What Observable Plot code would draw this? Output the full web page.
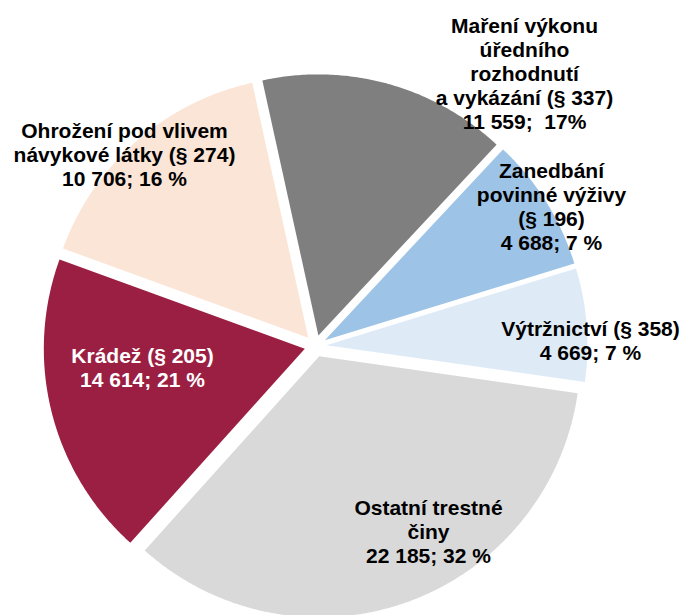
<!DOCTYPE html>
<html><head><meta charset="utf-8">
<script src="https://cdn.jsdelivr.net/npm/d3@7"></script>
<script src="https://cdn.jsdelivr.net/npm/@observablehq/plot@0.6"></script>
<style>html,body{margin:0;padding:0;background:#fff;}</style>
</head><body><div id="chart"></div>
<script>
// ---- data ----
const categories = [
  "Maření výkonu úředního rozhodnutí a vykázání (§ 337)",
  "Zanedbání povinné výživy (§ 196)",
  "Výtržnictví (§ 358)",
  "Ostatní trestné činy",
  "Krádež (§ 205)",
  "Ohrožení pod vlivem návykové látky (§ 274)"
];
// values printed in the labels
const values = [11559, 4688, 4669, 22185, 14614, 10706];
// slice shares (%)
const sliceShares = [15.4, 8.3, 7.0, 34.4, 18.9, 16.0];
const labelLines = [
  ["Maření výkonu", "úředního", "rozhodnutí", "a vykázání (§ 337)"],
  ["Zanedbání", "povinné výživy", "(§ 196)"],
  ["Výtržnictví (§ 358)"],
  ["Ostatní trestné", "činy"],
  ["Krádež (§ 205)"],
  ["Ohrožení pod vlivem", "návykové látky (§ 274)"]
];
const valueLabels = ["11 559;\u00a0 17%", "4 688; 7 %", "4 669; 7 %", "22 185; 32 %", "14 614; 21 %", "10 706; 16 %"];

// ---- styles / layout ----
const colors = ["#7f7f7f", "#9dc3e6", "#deebf7", "#d9d9d9", "#9b1f42", "#fbe5d6"];
const labelColors = ["black", "black", "black", "black", "white", "black"];
const W = 683, H = 615;
const CX = 315, CY = 345.5, R = 261, EXPLODE = 11, START_DEG = -12.4;
const labelPos = [[524, 73], [551, 206], [590, 340], [428, 531], [142, 367], [124, 154]];

// ---- build slice polygons from the shares ----
const total = d3.sum(sliceShares);
const rad = (d) => d * Math.PI / 180;
const slicePts = [];
let acc = START_DEG;
sliceShares.forEach((v, i) => {
  const a0 = acc, a1 = acc + v / total * 360;
  acc = a1;
  const m = (a0 + a1) / 2;
  const ox = CX + EXPLODE * Math.sin(rad(m));
  const oy = CY - EXPLODE * Math.cos(rad(m));
  const name = categories[i];
  slicePts.push({name, x: ox, y: oy});
  const n = Math.max(2, Math.ceil((a1 - a0) / 0.5));
  for (let k = 0; k <= n; k++) {
    const a = a0 + (a1 - a0) * k / n;
    slicePts.push({name, x: ox + R * Math.sin(rad(a)), y: oy - R * Math.cos(rad(a))});
  }
  slicePts.push({name, x: ox, y: oy});
});

const labels = categories.map((c, i) => ({
  name: c,
  x: labelPos[i][0],
  y: labelPos[i][1],
  text: [...labelLines[i], valueLabels[i]].join("\n"),
  color: labelColors[i]
}));

const textOpts = {
  x: "x", y: "y", text: "text",
  fontSize: 21, fontWeight: "bold",
  fontFamily: "'Liberation Sans', Arial, sans-serif",
  lineHeight: 1.14, lineAnchor: "middle", textAnchor: "middle"
};

const chart = Plot.plot({
  width: W, height: H, margin: 0,
  style: {background: "#fff"},
  x: {domain: [0, W], range: [0, W], axis: null},
  y: {domain: [0, H], range: [0, H], axis: null},
  color: {domain: categories, range: colors},
  marks: [
    Plot.line(slicePts, {x: "x", y: "y", z: "name", fill: "name", stroke: "none"}),
    Plot.text(labels.filter(d => d.color === "black"), {...textOpts, fill: "black"}),
    Plot.text(labels.filter(d => d.color === "white"), {...textOpts, fill: "white"})
  ]
});
document.getElementById("chart").appendChild(chart);
</script>
</body></html>
